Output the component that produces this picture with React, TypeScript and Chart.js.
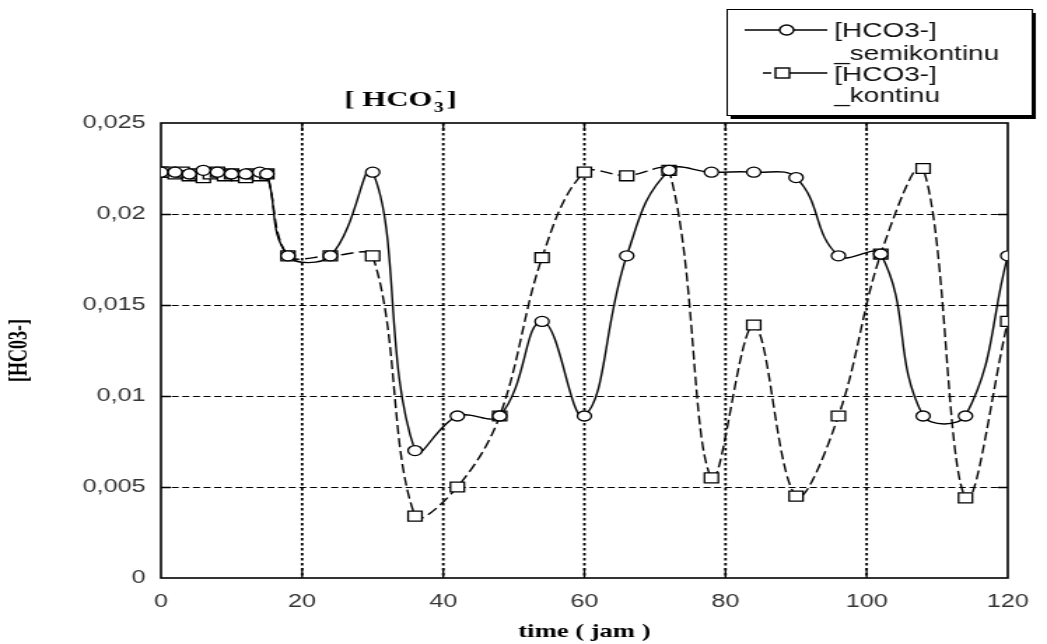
import React, { useEffect, useRef } from 'react';
import { Chart, registerables } from 'chart.js';

Chart.register(...registerables);

// The reference image is horizontally stretched (~1.4x): draw on a narrower canvas and stretch it with CSS.
const STRETCH = 1.4;
const W = 1047;
const H = 644;
const IW = Math.round(W / STRETCH);

const xTicks = [0, 20, 40, 60, 80, 100, 120];
const yTicks = [0, 0.005, 0.01, 0.015, 0.02, 0.025];

const semiHours = [0, 2, 4, 6, 8, 10, 12, 14, 15, 18, 24, 30, 36, 42, 48, 54, 60, 66, 72, 78, 84, 90, 96, 102, 108, 114, 120];
const semiValues = [0.0223, 0.0223, 0.0222, 0.0224, 0.0223, 0.0222, 0.0222, 0.0223, 0.0222, 0.0177, 0.0177, 0.0223, 0.007, 0.0089, 0.0089, 0.0141, 0.0089, 0.0177, 0.0224, 0.0223, 0.0223, 0.022, 0.0177, 0.0178, 0.0089, 0.0089, 0.0177];

const kontHours = [0, 1, 2, 3, 4, 5, 6, 7, 8, 9, 10, 11, 12, 13, 14, 15, 18, 24, 30, 36, 42, 48, 54, 60, 66, 72, 78, 84, 90, 96, 102, 108, 114, 120];
const kontValues = [0.0223, 0.0223, 0.0222, 0.0223, 0.0221, 0.0222, 0.022, 0.0222, 0.0223, 0.0221, 0.0222, 0.0221, 0.022, 0.0222, 0.0221, 0.0222, 0.0177, 0.0177, 0.0177, 0.0034, 0.005, 0.0089, 0.0176, 0.0223, 0.0221, 0.0224, 0.0055, 0.0139, 0.0045, 0.0089, 0.0178, 0.0225, 0.0044, 0.0141];

const legendLines = [['[HCO3-]', '_semikontinu'], ['[HCO3-]', '_kontinu']];
const chartTitle = ['[ HCO', '3', '-', ']'];

const SANS = '"Liberation Sans", Arial, sans-serif';
const SERIF = '"Liberation Serif", "Times New Roman", serif';

const framePlugin = {
  id: 'frame',
  beforeDatasetsDraw(chart: any) {
    const { ctx, chartArea: a, scales } = chart;
    const x = scales.x;
    const y = scales.y;
    ctx.save();
    ctx.strokeStyle = '#000';
    // horizontal dashed grid
    ctx.lineWidth = 1.1;
    ctx.setLineDash([5, 2.6]);
    yTicks.forEach((v) => {
      if (v <= 0 || v >= 0.025) return;
      const py = Math.round(y.getPixelForValue(v)) + 0.5;
      ctx.beginPath();
      ctx.moveTo(a.left, py);
      ctx.lineTo(a.right, py);
      ctx.stroke();
    });
    // vertical dotted grid
    ctx.lineWidth = 1.8;
    ctx.setLineDash([2.5, 2.5]);
    xTicks.forEach((v) => {
      if (v <= 0 || v >= 120) return;
      const px = x.getPixelForValue(v);
      ctx.beginPath();
      ctx.moveTo(px, a.top);
      ctx.lineTo(px, a.bottom);
      ctx.stroke();
    });
    ctx.setLineDash([]);
    // inner tick marks
    ctx.lineWidth = 1.3;
    xTicks.forEach((v) => {
      if (v <= 0 || v >= 120) return;
      const px = x.getPixelForValue(v);
      ctx.beginPath();
      ctx.moveTo(px, a.bottom);
      ctx.lineTo(px, a.bottom - 10);
      ctx.moveTo(px, a.top);
      ctx.lineTo(px, a.top + 8);
      ctx.stroke();
    });
    yTicks.forEach((v) => {
      if (v <= 0 || v >= 0.025) return;
      const py = Math.round(y.getPixelForValue(v)) + 0.5;
      ctx.beginPath();
      ctx.moveTo(a.left, py);
      ctx.lineTo(a.left + 7, py);
      ctx.moveTo(a.right, py);
      ctx.lineTo(a.right - 7, py);
      ctx.stroke();
    });
    // frame
    ctx.lineWidth = 1.6;
    ctx.strokeRect(a.left, a.top, a.right - a.left, a.bottom - a.top);
    ctx.restore();
  },
  afterDraw(chart: any) {
    const { ctx } = chart;
    ctx.save();
    // chart title
    ctx.fillStyle = '#000';
    ctx.textBaseline = 'alphabetic';
    ctx.textAlign = 'left';
    let tx = 246;
    const ty = 106;
    ctx.font = `bold 22px ${SERIF}`;
    ctx.fillText(chartTitle[0], tx, ty);
    tx += ctx.measureText(chartTitle[0]).width + 1;
    ctx.font = `bold 14px ${SERIF}`;
    ctx.fillText(chartTitle[1], tx, ty + 6);
    ctx.fillText(chartTitle[2], tx + 1, ty - 11);
    tx += ctx.measureText(chartTitle[1]).width + 2;
    ctx.font = `bold 22px ${SERIF}`;
    ctx.fillText(chartTitle[3], tx, ty);

    // legend box
    const bx = 519;
    const by = 9;
    const bw = 218;
    const bh = 106;
    ctx.fillStyle = '#000';
    ctx.fillRect(bx + 3, by + 4, bw, bh);
    ctx.fillStyle = '#fff';
    ctx.fillRect(bx, by, bw, bh);
    ctx.strokeStyle = '#000';
    ctx.lineWidth = 1;
    ctx.strokeRect(bx + 0.5, by + 0.5, bw, bh);

    // legend sample 1: solid + circle
    ctx.lineWidth = 1.4;
    ctx.beginPath();
    ctx.moveTo(532, 30);
    ctx.lineTo(591, 30);
    ctx.stroke();
    ctx.beginPath();
    ctx.arc(562, 30, 5, 0, Math.PI * 2);
    ctx.fillStyle = '#fff';
    ctx.fill();
    ctx.stroke();
    // legend sample 2: short dash + square + line
    ctx.beginPath();
    ctx.moveTo(545, 73);
    ctx.lineTo(551, 73);
    ctx.moveTo(564, 73);
    ctx.lineTo(591, 73);
    ctx.stroke();
    ctx.fillStyle = '#fff';
    ctx.fillRect(554, 68, 10, 10);
    ctx.strokeRect(554, 68, 10, 10);

    // legend texts
    ctx.fillStyle = '#111';
    ctx.font = `20px ${SANS}`;
    ctx.fillText(legendLines[0][0], 596, 37);
    ctx.fillText(legendLines[0][1], 596, 60);
    ctx.fillText(legendLines[1][0], 596, 81);
    ctx.fillText(legendLines[1][1], 596, 102);
    ctx.restore();
  },
};

const fmtY = (v: number) => (v === 0 ? '0' : String(parseFloat(Number(v).toFixed(3))).replace('.', ','));

export default function App() {
  const ref = useRef<HTMLCanvasElement>(null);

  useEffect(() => {
    const canvas = ref.current;
    if (!canvas) return;
    const chart = new Chart(canvas, {
      type: 'line',
      data: {
        datasets: [
          {
            label: '[HCO3-] _semikontinu',
            data: semiHours.map((h, i) => ({ x: h, y: semiValues[i] })),
            borderColor: '#000',
            borderWidth: 1.4,
            tension: 0.42,
            fill: false,
            pointStyle: 'circle',
            pointRadius: 5,
            pointBackgroundColor: '#fff',
            pointBorderColor: '#000',
            pointBorderWidth: 1.3,
          },
          {
            label: '[HCO3-] _kontinu',
            data: kontHours.map((h, i) => ({ x: h, y: kontValues[i] })),
            borderColor: '#000',
            borderWidth: 1.4,
            borderDash: [9, 4],
            tension: 0.35,
            fill: false,
            pointStyle: 'rect',
            pointRadius: 7,
            pointBackgroundColor: '#fff',
            pointBorderColor: '#000',
            pointBorderWidth: 1.3,
          },
        ],
      },
      options: {
        responsive: false,
        animation: false,
        devicePixelRatio: 1,
        layout: { padding: { top: 123, right: 20, left: 0, bottom: 0 } },
        plugins: {
          legend: { display: false },
          title: { display: false },
          tooltip: { enabled: false },
        },
        scales: {
          x: {
            type: 'linear',
            min: 0,
            max: 120,
            afterFit: (s: any) => {
              s.height = 66;
            },
            afterBuildTicks: (s: any) => {
              s.ticks = xTicks.map((v) => ({ value: v }));
            },
            grid: { display: false, drawTicks: false },
            border: { display: false },
            ticks: {
              font: { family: SANS, size: 18 },
              color: '#333',
              padding: 13,
              maxRotation: 0,
              autoSkip: false,
            },
            title: {
              display: true,
              text: 'time ( jam )',
              color: '#000',
              font: { family: SERIF, size: 19, weight: 'bold' },
              padding: { top: 0, bottom: 1 },
            },
          },
          y: {
            type: 'linear',
            min: 0,
            max: 0.025,
            afterFit: (s: any) => {
              s.width = 115;
            },
            afterBuildTicks: (s: any) => {
              s.ticks = yTicks.map((v) => ({ value: v }));
            },
            grid: { display: false, drawTicks: false },
            border: { display: false },
            ticks: {
              font: { family: SANS, size: 18 },
              color: '#333',
              padding: 11,
              callback: (v: any) => fmtY(Number(v)),
            },
            title: {
              display: true,
              text: '[HC03-]',
              color: '#000',
              font: { family: SERIF, size: 18, weight: 'bold' },
              padding: { top: 4, bottom: 0 },
            },
          },
        },
      },
      plugins: [framePlugin],
    } as any);
    return () => chart.destroy();
  }, []);

  return (
    <div style={{ position: 'absolute', left: 0, top: 0, width: W, height: H, background: '#fff' }}>
      <canvas ref={ref} width={IW} height={H} style={{ width: `${W}px`, height: `${H}px`, display: 'block' }} />
    </div>
  );
}
